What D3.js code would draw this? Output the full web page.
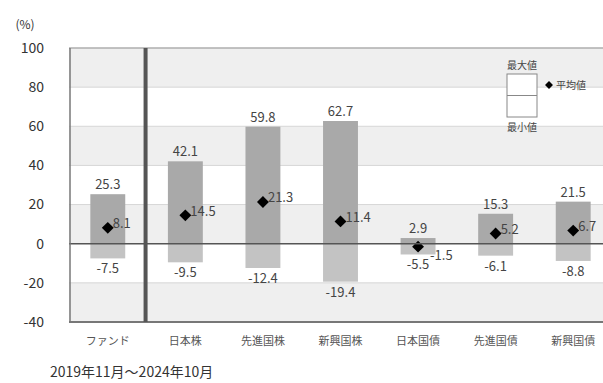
<!DOCTYPE html>
<html>
<head>
<meta charset="utf-8">
<script src="https://cdn.jsdelivr.net/npm/d3@7"></script>
<style>
  body { margin: 0; background: #fff; }
  svg { display: block; font-family: "Noto Sans CJK JP", "Noto Sans", sans-serif; }
</style>
</head>
<body>
<svg></svg>
<script>
// categories and values (%)
const categories = ['ファンド', '日本株', '先進国株', '新興国株', '日本国債', '先進国債', '新興国債'];
const maxValues = [25.3, 42.1, 59.8, 62.7, 2.9, 15.3, 21.5];
const minValues = [-7.5, -9.5, -12.4, -19.4, -5.5, -6.1, -8.8];
const avgValues = [8.1, 14.5, 21.3, 11.4, -1.5, 5.2, 6.7];
const yTicks = [-40, -20, 0, 20, 40, 60, 80, 100];

const width = 603, height = 383;
const svg = d3.select('svg').attr('width', width).attr('height', height);

const x = d3.scaleBand()
  .domain(categories)
  .range([69, 612])
  .paddingInner(0.55)
  .paddingOuter(0.275);

const y = d3.scaleLinear().domain([-40, 100]).range([322, 48]);

const data = categories.map((c, i) => ({
  name: c, max: maxValues[i], min: minValues[i], avg: avgValues[i]
}));

// alternating background bands
svg.append('g')
  .selectAll('rect')
  .data(d3.pairs(yTicks).filter((p, i) => i % 2 === 0))
  .join('rect')
  .attr('x', 69)
  .attr('width', width)
  .attr('y', d => y(d[1]))
  .attr('height', d => y(d[0]) - y(d[1]))
  .attr('fill', '#efefef');

// gridlines
svg.append('g')
  .selectAll('line')
  .data(yTicks.filter(t => t !== 0 && t !== -40))
  .join('line')
  .attr('x1', 69).attr('x2', width)
  .attr('y1', d => y(d)).attr('y2', d => y(d))
  .attr('stroke', '#d6d6d6')
  .attr('stroke-width', 1);

// y axis labels
svg.append('g')
  .selectAll('text')
  .data(yTicks)
  .join('text')
  .attr('x', 44)
  .attr('y', d => y(d))
  .attr('dy', '0.35em')
  .attr('text-anchor', 'end')
  .attr('font-size', 14)
  .attr('fill', '#333')
  .text(d => d);

svg.append('text')
  .attr('x', 25).attr('y', 25)
  .attr('dy', '0.35em')
  .attr('text-anchor', 'middle')
  .attr('font-size', 12)
  .attr('fill', '#333')
  .text('(%)');

// bars: upper part (0 to max) and lower part (min to 0)
const bar = svg.append('g')
  .selectAll('g')
  .data(data)
  .join('g');

bar.append('rect')
  .attr('x', d => x(d.name))
  .attr('width', x.bandwidth())
  .attr('y', d => y(d.max))
  .attr('height', d => y(0) - y(d.max))
  .attr('fill', '#a9a9a9');

bar.append('rect')
  .attr('x', d => x(d.name))
  .attr('width', x.bandwidth())
  .attr('y', y(0))
  .attr('height', d => y(d.min) - y(0))
  .attr('fill', '#c3c3c3');

// zero line
svg.append('line')
  .attr('x1', 69).attr('x2', width)
  .attr('y1', y(0)).attr('y2', y(0))
  .attr('stroke', '#555')
  .attr('stroke-width', 1.5);

// plot frame
svg.append('line')
  .attr('x1', 69).attr('x2', width)
  .attr('y1', y(100)).attr('y2', y(100))
  .attr('stroke', '#999');
svg.append('line')
  .attr('x1', 69).attr('x2', width)
  .attr('y1', y(-40)).attr('y2', y(-40))
  .attr('stroke', '#777')
  .attr('stroke-width', 2);
svg.append('line')
  .attr('x1', 70).attr('x2', 70)
  .attr('y1', y(100)).attr('y2', y(-40))
  .attr('stroke', '#777')
  .attr('stroke-width', 1.5);

// separator after the fund
const sepX = x(categories[1]) - x.step() * x.paddingInner() / 2 - 1;
svg.append('line')
  .attr('x1', sepX).attr('x2', sepX)
  .attr('y1', y(100)).attr('y2', y(-40))
  .attr('stroke', '#555')
  .attr('stroke-width', 4);

const cx = d => x(d.name) + x.bandwidth() / 2;
const diamond = d3.symbol().type(d3.symbolDiamond2).size(90);

bar.append('path')
  .attr('d', diamond)
  .attr('transform', d => `translate(${cx(d)},${y(d.avg)})`)
  .attr('fill', '#000');

// value labels
const labelStyle = sel => sel
  .attr('font-size', 13)
  .attr('fill', '#444');

bar.append('text')
  .attr('x', cx)
  .attr('y', d => y(d.max) - 5)
  .attr('text-anchor', 'middle')
  .call(labelStyle)
  .text(d => d.max.toFixed(1));

bar.append('text')
  .attr('x', cx)
  .attr('y', d => y(d.min) + 15)
  .attr('text-anchor', 'middle')
  .call(labelStyle)
  .text(d => d.min.toFixed(1));

bar.append('text')
  .attr('x', d => cx(d) + (d.avg < 0 ? 12 : 5))
  .attr('y', d => y(d.avg) - 1)
  .attr('dy', d => d.avg < 0 ? '1.1em' : '0.1em')
  .call(labelStyle)
  .text(d => d.avg.toFixed(1));

// category labels
svg.append('g')
  .selectAll('text')
  .data(categories)
  .join('text')
  .attr('x', d => x(d) + x.bandwidth() / 2)
  .attr('y', 341)
  .attr('dy', '0.35em')
  .attr('text-anchor', 'middle')
  .attr('font-size', 11)
  .attr('fill', '#555')
  .text(d => d);

svg.append('text')
  .attr('x', 50).attr('y', 372)
  .attr('dy', '0.35em')
  .attr('font-size', 14)
  .attr('fill', '#333')
  .text('2019年11月～2024年10月');

// legend
const legend = svg.append('g');
legend.append('rect')
  .attr('x', 507).attr('y', 74)
  .attr('width', 30).attr('height', 43)
  .attr('fill', '#fff')
  .attr('stroke', '#888');
legend.append('line')
  .attr('x1', 507).attr('x2', 537)
  .attr('y1', 95.5).attr('y2', 95.5)
  .attr('stroke', '#888');
legend.append('text')
  .attr('x', 522).attr('y', 65)
  .attr('dy', '0.35em')
  .attr('text-anchor', 'middle')
  .attr('font-size', 10)
  .attr('fill', '#444')
  .text('最大値');
legend.append('text')
  .attr('x', 522).attr('y', 127)
  .attr('dy', '0.35em')
  .attr('text-anchor', 'middle')
  .attr('font-size', 10)
  .attr('fill', '#444')
  .text('最小値');
legend.append('path')
  .attr('d', d3.symbol().type(d3.symbolDiamond2).size(40))
  .attr('transform', 'translate(549,85)')
  .attr('fill', '#000');
legend.append('text')
  .attr('x', 556).attr('y', 85)
  .attr('dy', '0.35em')
  .attr('font-size', 10)
  .attr('fill', '#444')
  .text('平均値');
</script>
</body>
</html>
